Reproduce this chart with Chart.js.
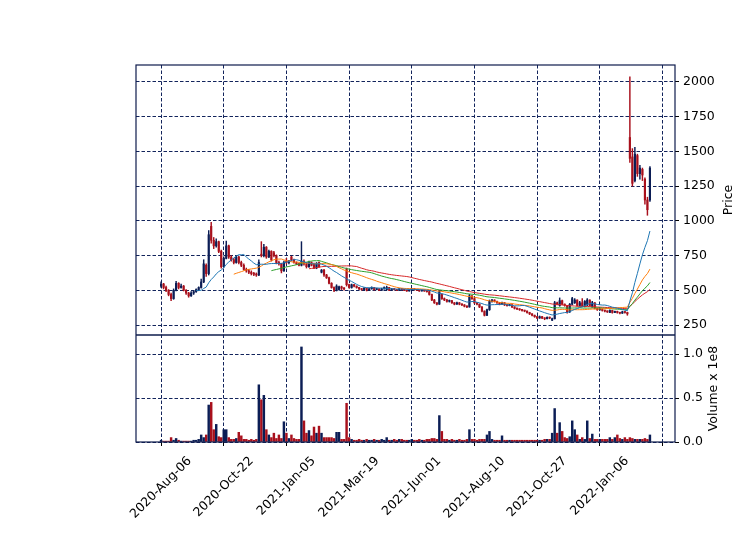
<!DOCTYPE html>
<html>
<head>
<meta charset="utf-8">
<script src="https://cdn.jsdelivr.net/npm/chart.js@4.4.1/dist/chart.umd.min.js"></script>
<style>
  html, body { margin: 0; padding: 0; background: #fff; }
</style>
</head>
<body>
<canvas id="chart" width="750" height="539"></canvas>
<script>
// x ticks every 25 candles (one candle = 2 sessions)
const tickIdx = [0, 25, 50, 75, 100, 125, 150, 175, 200];
const tickLabels = ['2020-Aug-06', '2020-Oct-22', '2021-Jan-05', '2021-Mar-19', '2021-Jun-01',
                    '2021-Aug-10', '2021-Oct-27', '2022-Jan-06', ''];
const priceTicks = [250, 500, 750, 1000, 1250, 1500, 1750, 2000];
const volumeTicks = [0, 50, 100]; // millions

const opens = [
  530,545,520,500,470,440,500,550,520,530,
  500,480,460,480,490,505,520,560,680,620,
  960,860,820,850,780,670,730,820,740,720,
  700,740,700,680,650,640,630,620,615,610,
  760,750,810,740,780,770,750,700,690,640,
  710,700,740,720,700,690,680,710,690,670,
  700,690,660,700,630,645,610,590,550,520,
  500,505,525,515,650,540,520,540,530,520,
  510,505,515,500,510,520,505,510,500,510,
  505,520,500,510,505,500,510,505,500,495,
  500,510,505,500,495,500,495,490,470,430,
  410,400,470,440,430,420,425,410,400,410,
  400,395,385,380,460,440,410,400,380,350,
  320,360,420,430,420,410,400,410,395,390,
  395,380,370,365,360,355,350,340,330,320,
  310,300,310,300,295,305,285,295,410,390,
  425,400,390,345,400,410,430,390,410,385,
  395,430,380,410,370,360,365,355,350,340,
  355,340,348,340,335,345,340,1600,1460,1290,
  1470,1340,1370,1300,1150,1150
];
const highs = [
  560,550,530,505,480,510,565,555,545,535,
  505,485,490,495,510,525,580,720,690,930,
  990,880,870,855,790,740,855,825,750,730,
  750,745,710,690,660,650,640,630,625,720,
  850,830,815,790,785,780,755,710,695,710,
  730,715,745,725,705,695,850,720,700,710,
  705,695,700,705,650,650,615,595,555,525,
  540,530,530,520,660,545,545,542,532,522,
  512,520,516,515,525,522,515,512,515,525,
  530,522,513,512,507,513,512,507,502,503,
  513,512,507,502,503,502,497,492,472,435,
  412,500,475,445,435,430,428,412,415,412,
  402,397,388,470,462,442,412,402,382,352,
  365,430,435,432,422,412,415,412,397,398,
  397,382,372,367,362,357,352,342,332,322,
  312,315,312,302,308,307,300,420,415,445,
  430,402,392,405,450,440,432,420,440,425,
  440,432,420,412,372,370,367,357,352,360,
  357,350,350,342,350,347,342,2036,1520,1530,
  1480,1400,1380,1310,1170,1390
];
const lows = [
  520,510,490,460,425,435,495,510,515,495,
  470,450,455,470,485,500,515,555,600,610,
  840,800,810,770,660,665,725,730,710,690,
  695,690,670,645,630,620,610,605,600,605,
  740,740,730,735,710,740,690,680,625,635,
  690,690,710,695,685,675,675,680,660,665,
  675,655,655,665,625,600,585,545,515,490,
  495,500,505,500,530,515,515,525,515,505,
  500,502,495,498,508,500,503,497,498,508,
  500,498,498,502,497,498,502,497,492,493,
  498,502,497,492,493,492,486,465,425,405,
  395,398,435,425,415,415,405,395,398,395,
  390,380,375,378,435,405,395,375,345,315,
  318,355,415,415,405,395,398,390,385,388,
  375,365,360,355,350,345,335,325,315,305,
  295,298,295,288,293,295,282,293,395,385,
  395,385,335,340,395,405,385,385,380,380,
  390,385,378,365,355,355,350,345,340,338,
  335,338,335,330,333,335,320,1420,1250,1280,
  1320,1300,1290,1120,1040,1140
];
const closes = [
  545,520,500,470,440,500,550,520,530,500,
  480,460,480,490,505,520,560,690,620,900,
  860,820,850,780,670,730,820,740,720,700,
  740,700,680,650,640,630,620,615,610,700,
  750,810,740,780,720,750,700,690,640,700,
  700,710,720,700,690,680,710,690,670,700,
  680,660,690,670,645,610,590,550,520,500,
  530,525,515,510,540,520,540,530,520,510,
  505,515,500,510,520,505,510,500,510,520,
  520,500,510,505,500,510,505,500,495,500,
  510,505,500,495,500,495,490,470,430,410,
  400,490,440,430,420,425,410,400,410,400,
  395,385,380,460,440,410,400,380,350,320,
  360,420,430,420,410,400,410,395,390,395,
  380,370,365,360,355,350,340,330,320,310,
  300,310,300,295,305,300,295,410,400,425,
  400,390,345,400,440,430,390,410,385,420,
  430,390,410,370,360,365,355,350,345,355,
  340,348,340,335,345,340,330,1450,1270,1480,
  1340,1380,1330,1150,1080,1380
];
// volume in millions
const volumes = [
  2,1,1,1,5,2,4,2,1,1,
  1,1,1,2,2,3,8,5,8,42,
  45,14,20,6,5,14,14,5,3,3,
  4,11,7,3,3,2,3,2,3,65,
  48,53,14,8,5,10,4,8,4,23,
  10,4,8,4,3,3,108,24,10,13,
  7,17,10,18,10,5,5,5,5,4,
  11,11,3,3,44,5,3,2,2,3,
  2,2,3,2,2,3,2,2,3,2,
  5,2,2,3,2,3,3,2,2,2,
  3,2,2,3,2,2,3,3,4,4,
  3,30,12,3,3,2,3,2,2,3,
  2,2,3,14,3,3,2,3,3,3,
  8,12,3,2,2,2,7,2,2,2,
  2,2,2,2,2,2,2,2,2,2,
  2,2,2,3,3,3,10,38,10,22,
  12,5,4,6,24,14,8,3,5,3,
  24,4,9,3,3,3,3,3,3,5,
  3,5,8,4,3,5,3,5,4,3,
  3,3,3,4,3,8
];

const mavWindows = [15, 30, 45, 60];
const mavColors = ['#1f77b4', '#ff7f0e', '#2ca02c', '#d62728'];

const upColor = '#0b1d55';
const downColor = '#a8101c';
const gridColor = '#13245c';
const spineColor = '#0e1c4c';
const fontSize = 12.5;

function movingAverage(values, n) {
    return values.map((v, i) => {
        if (i < n - 1) return null;
        let s = 0;
        for (let k = i - n + 1; k <= i; k++) s += values[k];
        return s / n;
    });
}

const candleColors = closes.map((c, i) => c >= opens[i] ? upColor : downColor);

const datasets = [];

// Moving averages (on top)
mavWindows.forEach((w, j) => {
    const ma = movingAverage(closes, w);
    datasets.push({
        type: 'line',
        label: 'MA' + w,
        data: ma.map((v, i) => ({ x: i, y: v })),
        borderColor: mavColors[j],
        borderWidth: 1,
        pointRadius: 0,
        fill: false,
        tension: 0,
        yAxisID: 'y',
        order: 0
    });
});

// Candle bodies
datasets.push({
    type: 'bar',
    label: 'body',
    data: opens.map((o, i) => ({ x: i, y: [o, closes[i]] })),
    backgroundColor: candleColors,
    borderWidth: 0,
    barThickness: 1.5,
    grouped: false,
    minBarLength: 1,
    yAxisID: 'y',
    order: 1
});

// Candle wicks
datasets.push({
    type: 'bar',
    label: 'wick',
    data: lows.map((l, i) => ({ x: i, y: [l, highs[i]] })),
    backgroundColor: candleColors,
    borderWidth: 0,
    barThickness: 0.8,
    grouped: false,
    yAxisID: 'y',
    order: 2
});

// Volume
datasets.push({
    type: 'bar',
    label: 'volume',
    data: volumes.map((v, i) => ({ x: i, y: v })),
    backgroundColor: candleColors,
    borderWidth: 0,
    barThickness: 1.8,
    grouped: false,
    yAxisID: 'yv',
    order: 1
});

// Frame round both panels
const spines = {
    id: 'spines',
    afterDraw(chart) {
        const { ctx, chartArea } = chart;
        const sep = chart.scales.y.bottom;
        ctx.save();
        ctx.strokeStyle = spineColor;
        ctx.lineWidth = 1.2;
        ctx.strokeRect(chartArea.left, chartArea.top, chartArea.right - chartArea.left, chartArea.bottom - chartArea.top);
        ctx.beginPath();
        ctx.moveTo(chartArea.left, sep);
        ctx.lineTo(chartArea.right, sep);
        ctx.lineWidth = 1.6;
        ctx.stroke();
        ctx.restore();
    }
};

// Date labels centred under their ticks, turned 45 degrees (matplotlib style)
const dateLabels = {
    id: 'dateLabels',
    afterDraw(chart) {
        const { ctx, chartArea, scales } = chart;
        ctx.save();
        ctx.font = fontSize + 'px "DejaVu Sans"';
        ctx.fillStyle = '#000';
        ctx.textAlign = 'center';
        ctx.textBaseline = 'middle';
        tickIdx.forEach((v, k) => {
            const text = tickLabels[k];
            if (!text) return;
            const w = ctx.measureText(text).width;
            const x = scales.x.getPixelForValue(v);
            const y = chartArea.bottom + 14 + 0.7071 * (w + 9) / 2;
            ctx.save();
            ctx.translate(x, y);
            ctx.rotate(-Math.PI / 4);
            ctx.fillText(text, 0, 0);
            ctx.restore();
        });
        ctx.restore();
    }
};

// Right-hand axis titles, reading bottom to top
const axisTitles = {
    id: 'axisTitles',
    afterDraw(chart) {
        const { ctx, chartArea, scales } = chart;
        const draw = (text, x, y) => {
            ctx.save();
            ctx.translate(x, y);
            ctx.rotate(-Math.PI / 2);
            ctx.fillText(text, 0, 0);
            ctx.restore();
        };
        ctx.save();
        ctx.font = fontSize + 'px "DejaVu Sans"';
        ctx.fillStyle = '#000';
        ctx.textAlign = 'center';
        ctx.textBaseline = 'middle';
        draw('Price', chartArea.right + 54, (scales.y.top + scales.y.bottom) / 2);
        draw('Volume x 1e8', chartArea.right + 39, (scales.yv.top + scales.yv.bottom) / 2);
        ctx.restore();
    }
};

Chart.defaults.font.family = '"DejaVu Sans", sans-serif';
Chart.defaults.font.size = fontSize;
Chart.defaults.color = '#000';

const ctx = document.getElementById('chart').getContext('2d');
new Chart(ctx, {
    type: 'bar',
    data: { datasets: datasets },
    options: {
        responsive: false,
        animation: false,
        events: [],
        layout: { padding: { left: 136, top: 65, right: 0, bottom: 0 } },
        plugins: {
            legend: { display: false },
            tooltip: { enabled: false }
        },
        scales: {
            x: {
                type: 'linear',
                min: -10,
                max: 205,
                offset: false,
                afterBuildTicks: s => { s.ticks = tickIdx.map(v => ({ value: v })); },
                afterFit: s => { s.height = 97; },
                grid: {
                    color: gridColor,
                    lineWidth: 1,
                    offset: false,
                    drawTicks: true,
                    tickLength: 4,
                    tickColor: '#000',
                    tickWidth: 1
                },
                border: { display: false, dash: [3.5, 2] },
                ticks: {
                    autoSkip: false,
                    maxRotation: 0,
                    minRotation: 0,
                    callback: () => ''
                }
            },
            y: {
                type: 'linear',
                position: 'right',
                stack: 'panes',
                stackWeight: 270,
                min: 178,
                max: 2122,
                afterBuildTicks: s => { s.ticks = priceTicks.map(v => ({ value: v })); },
                afterFit: s => { s.width = 75; },
                grid: {
                    color: gridColor,
                    lineWidth: 1,
                    drawTicks: true,
                    tickLength: 4,
                    tickColor: '#000',
                    tickWidth: 1
                },
                border: { display: false, dash: [3.5, 2] },
                ticks: { padding: 4, callback: v => String(v) }
            },
            yv: {
                type: 'linear',
                position: 'right',
                stack: 'panes',
                stackWeight: 107,
                min: 0,
                max: 121.6,
                afterBuildTicks: s => { s.ticks = volumeTicks.map(v => ({ value: v })); },
                afterFit: s => { s.width = 75; },
                grid: {
                    color: gridColor,
                    lineWidth: 1,
                    drawTicks: true,
                    tickLength: 4,
                    tickColor: '#000',
                    tickWidth: 1
                },
                border: { display: false, dash: [3.5, 2] },
                ticks: { padding: 4, callback: v => (v / 100).toFixed(1) }
            }
        }
    },
    plugins: [spines, dateLabels, axisTitles]
});
</script>
</body>
</html>
